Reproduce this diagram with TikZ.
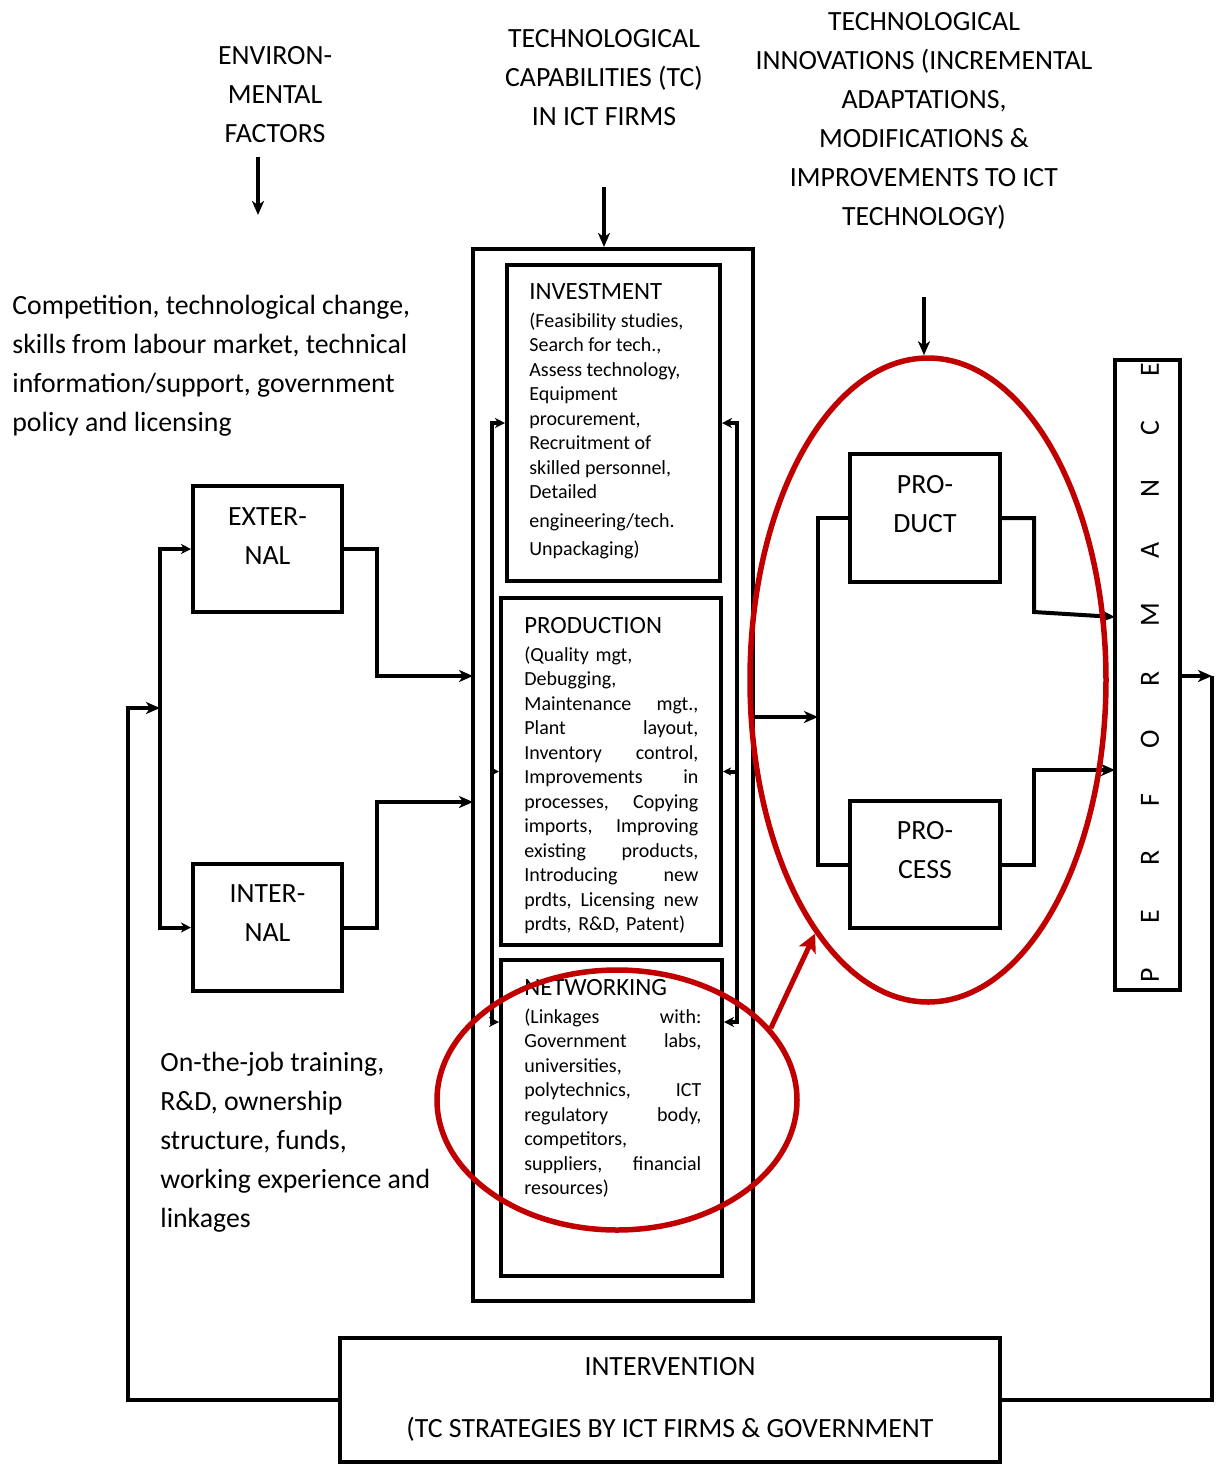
\documentclass[tikz,border=0pt]{standalone}
\usepackage{fontspec}
\setmainfont{Carlito}
\usetikzlibrary{arrows.meta,positioning,shapes.geometric}
\definecolor{ovalred}{RGB}{192,0,0}
\newcommand{\hd}{\fontsize{13.9}{19.5}\selectfont}
\newcommand{\bhd}{\fontsize{12.4}{19.5}\selectfont}
\newcommand{\jst}[2]{\leavevmode\hbox to #1{#2}}
\begin{document}
\begin{tikzpicture}[x=0.5pt, y=-0.5pt,
  every node/.style={font=\hd},
  box/.style={draw, line width=2pt, inner sep=0pt},
  lbl/.style={align=center, inner sep=0pt},
  small/.style={align=left, inner sep=0pt, anchor=north west,
    font=\fontsize{10}{12.25}\selectfont},
  line/.style={line width=2pt},
  arr/.style={line, -{Stealth[length=7pt, width=6pt, inset=2pt]}},
  arrs/.style={line, {Stealth[length=5pt, width=5pt, inset=1.5pt]}-{Stealth[length=5pt, width=5pt, inset=1.5pt]}},
  arrsm/.style={line, -{Stealth[length=4pt, width=4pt, inset=1pt]}},
  oval/.style={draw=ovalred, line width=2.75pt, ellipse, inner sep=0pt}]
\useasboundingbox (0,0) rectangle (1219,1464);

% headings on top
\node[lbl] (env) at (275,95) {ENVIRON-\\MENTAL\\FACTORS};
\node[lbl] (tctxt) at (604,78) {TECHNOLOGICAL\\CAPABILITIES (TC)\\IN ICT FIRMS};
\node[lbl] (innotxt) at (924,121) {TECHNOLOGICAL\\INNOVATIONS (INCREMENTAL\\ADAPTATIONS,\\MODIFICATIONS \&\\IMPROVEMENTS TO ICT\\TECHNOLOGY)};
\node[lbl, align=left, anchor=west] (comp) at (12,366) {Competition, technological change,\\skills from labour market, technical\\information/support, government\\policy and licensing};
\node[lbl, align=left, anchor=west] (onjob) at (160,1142) {On-the-job training,\\R\&D, ownership\\structure, funds,\\working experience and\\linkages};

% factors
\node[box, minimum width=74.5pt, minimum height=63pt] (ext) at (267.5,549) {};
\node[lbl] at (267.5,536) {EXTER-\\NAL};
\node[box, minimum width=74.5pt, minimum height=63.5pt] (int) at (267.5,927.5) {};
\node[lbl] at (267.5,913) {INTER-\\NAL};

% TC column
\node[box, minimum width=140pt, minimum height=526pt] (tc) at (613,775) {};
\node[box, minimum width=106.5pt, minimum height=158pt] (inv) at (613.5,423) {};
\node[box, minimum width=110pt, minimum height=173.5pt] (prod) at (611,771.5) {};
\node[box, minimum width=110.5pt, minimum height=158pt] (netw) at (611.5,1118) {};
\node[small] (invtxt) at (529,283) {{\bhd INVESTMENT}\\[1.5pt](Feasibility studies,\\Search for tech.,\\Assess technology,\\Equipment\\procurement,\\Recruitment of\\skilled personnel,\\Detailed\\[2pt]engineering/tech.\\[2pt]Unpackaging)};
\node[small, text width=87pt] (prodtxt) at (524,617) {{\bhd PRODUCTION}\\[1.5pt](Quality mgt,\\Debugging,\\\jst{87pt}{Maintenance\hfill mgt.,}\\\jst{87pt}{Plant\hfill layout,}\\\jst{87pt}{Inventory\hfill control,}\\\jst{87pt}{Improvements\hfill in}\\\jst{87pt}{processes,\hfill Copying}\\\jst{87pt}{imports,\hfill Improving}\\\jst{87pt}{existing\hfill products,}\\\jst{87pt}{Introducing\hfill new}\\\jst{87pt}{prdts,\hfill Licensing\hfill new}\\prdts, R\&D, Patent)};
\node[small, text width=88.5pt] (netwtxt) at (524,979) {{\bhd NETWORKING}\\[1.5pt]\jst{88.5pt}{(Linkages\hfill with:}\\\jst{88.5pt}{Government\hfill labs,}\\universities,\\\jst{88.5pt}{polytechnics,\hfill ICT}\\\jst{88.5pt}{regulatory\hfill body,}\\competitors,\\\jst{88.5pt}{suppliers,\hfill financial}\\resources)};

% innovations and performance
\node[box, minimum width=75pt, minimum height=64pt] (prd) at (925,518) {};
\node[lbl] at (925,504) {PRO-\\DUCT};
\node[box, minimum width=75pt, minimum height=63.5pt] (prc) at (925,864.5) {};
\node[lbl] at (925,850) {PRO-\\CESS};
\node[box, minimum width=32.5pt, minimum height=315pt] (perf) at (1147.5,675) {};
\node[lbl, rotate=90] at (1150,672.5) {\makebox[310pt][s]{P E R F O R M A N C E}};
\node[box, minimum width=330pt, minimum height=62pt] (interv) at (670,1400) {};
\node[lbl] at (670,1399) {INTERVENTION\\[11.5pt](TC STRATEGIES BY ICT FIRMS \& GOVERNMENT};

% connectors
\coordinate (a1) at (258,157);
\coordinate (a2) at (604,187);
\coordinate (a3) at (924,297);
\coordinate (lx) at (160,549);
\coordinate (fb) at (128,708);
\coordinate (tin1) at (473,676);
\coordinate (tin2) at (473,802);
\coordinate (bl) at (492,422);
\coordinate (bl2) at (492,1022);
\coordinate (br) at (737,422);
\coordinate (br2) at (737,1022);
\coordinate (ox) at (818,717);
\coordinate (pin1) at (1115,617);
\coordinate (pin2) at (1115,770);
\coordinate (fr) at (1212,676);

\draw[arr] (a1) -- ++(0,58);
\draw[arr] (a2) -- (a2 |- tc.north);
\draw[arrs] (ext.west) -- (ext.west -| lx) |- (int.west);
\draw[arr] (interv.west) -| (fb) -- (fb -| lx);
\draw[arr] (ext.east) -- ++(33,0) |- (tin1);
\draw[arr] (int.east) -- ++(33,0) |- (tin2);
\draw[arrs] (inv.west) -- (inv.west -| bl) -- (bl2) -- (bl2 -| netw.west);
\draw[arrsm] (prod.west -| bl) -- (prod.west);
\draw[arrs] (inv.east) -- (inv.east -| br) -- (br2) -- (br2 -| netw.east);
\draw[arrsm] (prod.east -| br) -- (prod.east);
\draw[arr] (ox -| tc.east) -- (ox);
\draw[line] (prd.west) -| (ox) |- (prc.west);
\draw[arr] (prd.east) -- ++(32,0) -- ++(0,94) -- (pin1);
\draw[arr] (prc.east) -- ++(32,0) |- (pin2);
\draw[arr] (perf.east |- fr) -- (fr);
\draw[line] (fr) |- (interv.east);

% red marks
\node[oval, minimum width=178pt, minimum height=322pt] (inov) at (928,680) {};
\node[oval, minimum width=180pt, minimum height=130pt] (netov) at (617,1100) {};
\draw[arr] (a3) -- (a3 |- inov.north);
\draw[draw=ovalred, line width=2.5pt, -{Stealth[length=9pt, width=9pt, inset=2pt]}, ovalred] (netov.25) -- (inov.246);
\end{tikzpicture}
\end{document}
